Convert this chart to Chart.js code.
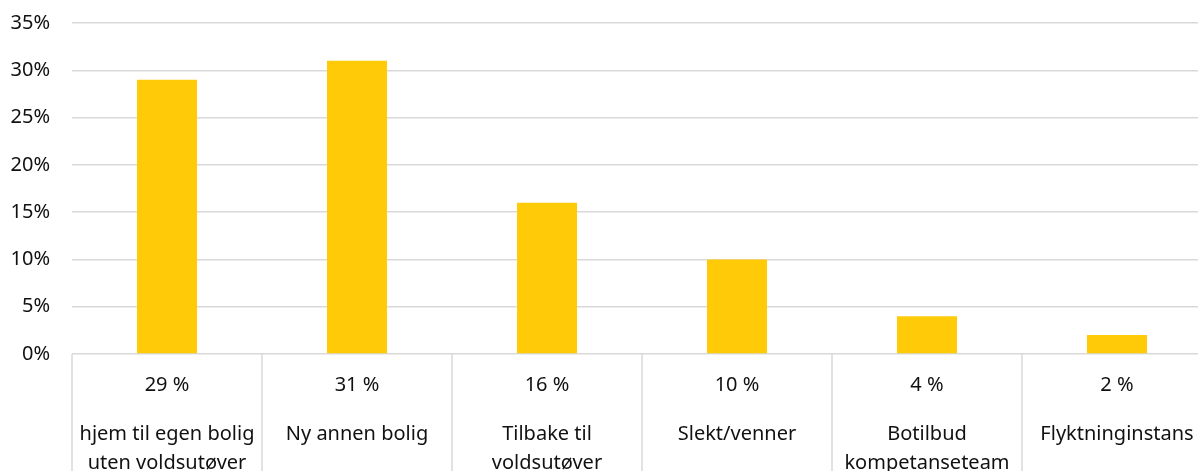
<!DOCTYPE html>
<html>
<head>
<meta charset="utf-8">
<script src="https://cdn.jsdelivr.net/npm/chart.js@4"></script>
<style>
  html, body { margin: 0; padding: 0; background: #fff; overflow: hidden; }
  #wrap { width: 1212px; height: 471px; }
</style>
</head>
<body>
<div id="wrap"><canvas id="chart"></canvas></div>
<script>
// data
var categories = [
    ["hjem til egen bolig", "uten voldsutøver"],
    ["Ny annen bolig"],
    ["Tilbake til", "voldsutøver"],
    ["Slekt/venner"],
    ["Botilbud", "kompetanseteam"],
    ["Flyktninginstans"]
];
var values = [29, 31, 16, 10, 4, 2];
var valueLabels = ["29 %", "31 %", "16 %", "10 %", "4 %", "2 %"];
var yTicks = [0, 5, 10, 15, 20, 25, 30, 35];

var FONT = "'Noto Sans', sans-serif";
var GRID = '#d9d9d9';

// draws the table-like labels under the axis
var tableLabels = {
    id: 'tableLabels',
    afterDraw(chart) {
        var ctx = chart.ctx;
        var xs = chart.scales.x;
        var top = chart.chartArea.bottom;
        var n = categories.length;
        var half = (xs.getPixelForValue(1) - xs.getPixelForValue(0)) / 2;
        ctx.save();
        // separators
        ctx.strokeStyle = GRID;
        ctx.lineWidth = 1.5;
        for (var i = 0; i <= n; i++) {
            var bx = xs.getPixelForValue(0) - half + i * half * 2;
            ctx.beginPath();
            ctx.moveTo(bx, top);
            ctx.lineTo(bx, chart.height);
            ctx.stroke();
        }
        ctx.fillStyle = '#111';
        ctx.font = '20px ' + FONT;
        ctx.textAlign = 'center';
        ctx.textBaseline = 'middle';
        for (var j = 0; j < n; j++) {
            var cx = xs.getPixelForValue(j);
            ctx.fillText(valueLabels[j], cx, top + 31);
            categories[j].forEach(function (line, k) {
                ctx.fillText(line, cx, top + 80 + k * 29);
            });
        }
        ctx.restore();
    }
};

var ctx = document.getElementById('chart');
var chart = new Chart(ctx, {
    type: 'bar',
    data: {
        labels: categories.map(function (c) { return c.join(' '); }),
        datasets: [{
            data: values,
            backgroundColor: '#FFCB08',
            categoryPercentage: 1,
            barPercentage: 0.316
        }]
    },
    options: {
        responsive: true,
        maintainAspectRatio: false,
        animation: false,
        layout: { padding: { top: 23, left: 0, right: 0, bottom: 0 } },
        plugins: { legend: { display: false }, tooltip: { enabled: false } },
        scales: {
            x: {
                ticks: { display: false },
                grid: { display: false },
                border: { display: false },
                afterFit(scale) { scale.height = 117; }
            },
            y: {
                min: 0,
                max: 35,
                afterBuildTicks(scale) {
                    scale.ticks = yTicks.map(function (v) { return { value: v }; });
                },
                ticks: {
                    callback: function (v) { return v + '%'; },
                    font: { family: FONT, size: 20 },
                    color: '#111',
                    padding: 22
                },
                grid: { color: GRID, lineWidth: 1.5, drawTicks: false },
                border: { display: false },
                afterFit(scale) {
                    scale.width = 72;
                    scale.paddingTop = 0;
                    scale.paddingBottom = 0;
                }
            }
        }
    },
    plugins: [tableLabels]
});
</script>
</body>
</html>
